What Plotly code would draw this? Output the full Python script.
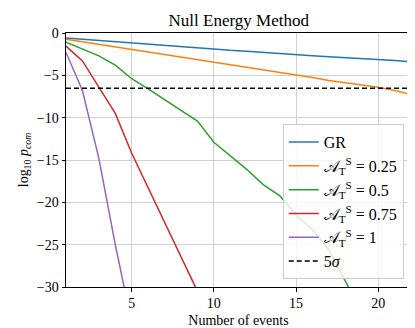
import plotly.graph_objects as go

# number of events
n_events = list(range(1, 23))

# log10 p_com
gr = [-0.6, -0.75, -0.9, -1.05, -1.2, -1.35, -1.5, -1.65, -1.8, -1.95, -2.05,
      -2.15, -2.3, -2.45, -2.6, -2.7, -2.8, -2.9, -3.0, -3.1, -3.25, -3.4]
at_025 = [-0.75, -1.05, -1.35, -1.65, -1.95, -2.25, -2.55, -2.85, -3.1, -3.4, -3.7,
          -4.0, -4.3, -4.6, -4.95, -5.25, -5.6, -5.85, -6.1, -6.4, -6.8, -7.25]
at_05 = [-1.1, -1.9, -2.7, -3.8, -5.4, -6.6, -7.9, -9.1, -10.4, -12.9, -14.5,
         -16.1, -17.9, -19.2, -21.5, -23.2, -25.6, -29.3, -33.0]
at_075 = [-1.55, -3.3, -6.4, -9.5, -14.2, -18.3, -22.3, -26.4, -30.5]
at_1 = [-2.3, -6.8, -14.8, -25.0, -34.3]

five_sigma = -6.54

series = [
    ("GR", gr, "#1f77b4"),
    ("𝒜<sub>T</sub><sup>S</sup> = 0.25", at_025, "#ff7f0e"),
    ("𝒜<sub>T</sub><sup>S</sup> = 0.5", at_05, "#2ca02c"),
    ("𝒜<sub>T</sub><sup>S</sup> = 0.75", at_075, "#d62728"),
    ("𝒜<sub>T</sub><sup>S</sup> = 1", at_1, "#9467bd"),
]

fig = go.Figure()
for name, vals, col in series:
    fig.add_trace(go.Scatter(x=n_events[:len(vals)], y=vals, mode="lines", name=name,
                             line=dict(color=col, width=1.5)))

fig.add_trace(go.Scatter(x=[n_events[0], n_events[-1]], y=[five_sigma, five_sigma],
                         mode="lines", name="5<i>σ</i>",
                         line=dict(color="black", width=1.5, dash="5px,3px")))

axis_style = dict(showline=True, linecolor="black", linewidth=1, mirror=True,
                  showgrid=True, gridcolor="#d0d0d0", gridwidth=1, zeroline=False,
                  ticks="outside", ticklen=3.5, tickcolor="black",
                  tickfont=dict(size=14, color="black"))

fig.update_xaxes(range=[1, 22], tickvals=[5, 10, 15, 20],
                 title=dict(text="Number of events", font=dict(size=14), standoff=4),
                 **axis_style)
fig.update_yaxes(range=[-30, 0], tickvals=[0, -5, -10, -15, -20, -25, -30],
                 ticktext=["0", "−5", "−10", "−15", "−20", "−25", "−30"],
                 title=dict(text="log<sub>10</sub> <i>p<sub>com</sub></i>", font=dict(size=14), standoff=4),
                 **axis_style)

fig.update_layout(
    width=415, height=328,
    margin=dict(l=58, r=11, t=25, b=45),
    paper_bgcolor="white", plot_bgcolor="white",
    font=dict(family="Liberation Serif, DejaVu Serif, serif", color="black"),
    title=dict(text="Null Energy Method", x=0.556, xanchor="center", y=0.962,
               yanchor="middle", font=dict(size=17)),
    legend=dict(x=0.979, xanchor="right", y=0.031, yanchor="bottom",
                bgcolor="rgba(255,255,255,0.8)", bordercolor="#cccccc", borderwidth=1,
                font=dict(size=16)),
    showlegend=True,
)

fig.write_html("out.html")
